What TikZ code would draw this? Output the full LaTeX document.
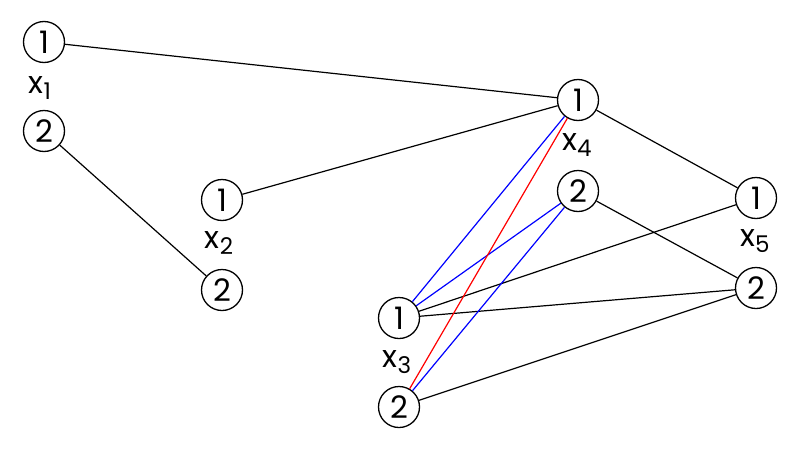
\documentclass[tikz,border=0pt]{standalone}
\usepackage{fontspec}
\setmainfont{Poppins}
\begin{document}
\begin{tikzpicture}[x=1pt,y=-1pt,
  val/.style={circle,draw,line width=1.3pt,minimum size=41pt,inner sep=0pt,font=\fontsize{31}{33}\selectfont},
  lab/.style={font=\fontsize{31}{33}\selectfont,inner sep=0pt},
  edge/.style={line width=1.2pt},
  bl/.style={edge,blue},
  rd/.style={edge,red}]
\useasboundingbox (0,0) rectangle (800,450);
\node[val] (a1) at (44,42) {1};
\node[val] (a2) at (44,131) {2};
\node[val] (b1) at (222,200) {1};
\node[val] (b2) at (222,290) {2};
\node[val] (c1) at (399,318) {1};
\node[val] (c2) at (399,407) {2};
\node[val] (d1) at (578,100) {1};
\node[val] (d2) at (578,191) {2};
\node[val] (e1) at (756,198) {1};
\node[val] (e2) at (756,288) {2};
\node[lab] (la) at (40,88) {x\raisebox{-0.4ex}{\fontsize{23}{24}\selectfont 1}};
\node[lab] (lb) at (219,243) {x\raisebox{-0.4ex}{\fontsize{23}{24}\selectfont 2}};
\node[lab] (lc) at (397,362) {x\raisebox{-0.4ex}{\fontsize{23}{24}\selectfont 3}};
\node[lab] (ld) at (577,145) {x\raisebox{-0.4ex}{\fontsize{23}{24}\selectfont 4}};
\node[lab] (le) at (755,241) {x\raisebox{-0.4ex}{\fontsize{23}{24}\selectfont 5}};
\draw[edge] (a1) -- (d1);
\draw[edge] (a2) -- (b2);
\draw[edge] (b1) -- (d1);
\draw[edge] (d1) -- (e1);
\draw[edge] (d2) -- (e2);
\draw[edge] (c1) -- (e1);
\draw[edge] (c1) -- (e2);
\draw[edge] (c2) -- (e2);
\draw[bl] (c1) -- (d1);
\draw[bl] (c1) -- (d2);
\draw[bl] (c2) -- (d2);
\draw[rd] (c2) -- (d1);
\end{tikzpicture}
\end{document}
